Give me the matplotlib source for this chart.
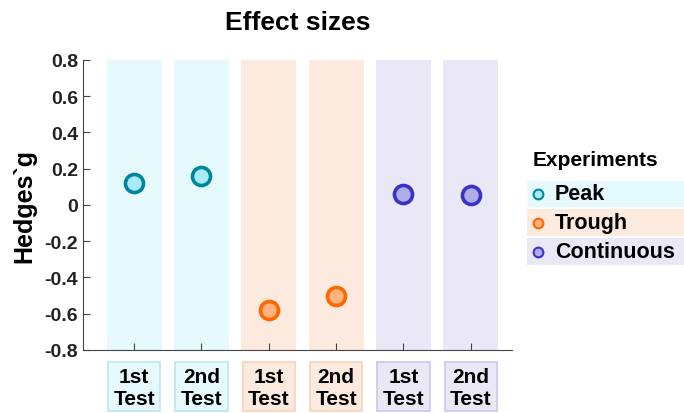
import numpy as np
import matplotlib
matplotlib.use("Agg")
import matplotlib.pyplot as plt
from matplotlib.patches import Rectangle
from matplotlib.lines import Line2D
import matplotlib.transforms as mtransforms

plt.rcParams['font.family'] = ['Liberation Sans', 'DejaVu Sans']
plt.rcParams['font.weight'] = 'bold'

# data
groups = ["Peak", "Trough", "Continuous"]
tick_labels = ["1st\nTest", "2nd\nTest", "1st\nTest", "2nd\nTest", "1st\nTest", "2nd\nTest"]
group_of = [0, 0, 1, 1, 2, 2]
hedges_g = [0.123, 0.16, -0.578, -0.50, 0.059, 0.053]

# colours per group
bg_col = ["#E6F9FD", "#FDEADE", "#EAE8F6"]
box_edge = ["#BDE6EE", "#F8D2BA", "#CBC7EC"]
face_col = ["#A9ECF9", "#FFB380", "#AFADE6"]
edge_col = ["#00869C", "#FF6600", "#3A33C9"]

fig = plt.figure(figsize=(6.84, 4.14), dpi=100)
ax = fig.add_axes([0.1213, 0.1522, 0.627, 0.7005])

x = np.arange(1, len(hedges_g) + 1)
ymin, ymax = -0.8, 0.8
for xi, g in zip(x, group_of):
    ax.bar(xi, ymax - ymin, bottom=ymin, width=0.82, color=bg_col[g], zorder=0)
for xi, yi, g in zip(x, hedges_g, group_of):
    ax.plot(xi, yi, 'o', ms=13, mfc=face_col[g], mec=edge_col[g], mew=2.6, zorder=3)

ax.set_xlim(0.24, 6.61)
ax.set_ylim(ymin, ymax)
yt = np.arange(-0.8, 0.81, 0.2)
ax.set_yticks(yt)
ax.set_yticklabels(["%g" % v if abs(v) > 1e-9 else "0" for v in yt])
ax.set_xticks(x)
ax.set_xticklabels([])
ax.tick_params(direction='in', length=5, color='#444444', labelsize=14, labelcolor='#222222')
for s in ['top', 'right']:
    ax.spines[s].set_visible(False)
for s in ['left', 'bottom']:
    ax.spines[s].set_color('#444444')
ax.set_ylabel("Hedges`g", fontsize=18, fontweight='bold', labelpad=6)
ax.set_title("Effect sizes", fontsize=19, fontweight='bold', pad=22)

# boxed tick labels
trans = mtransforms.blended_transform_factory(ax.transData, ax.transAxes)
for xi, lab, g in zip(x, tick_labels, group_of):
    ax.add_patch(Rectangle((xi - 0.39, -0.212), 0.78, 0.172, transform=trans,
                           facecolor=bg_col[g], edgecolor=box_edge[g], lw=1.2, clip_on=False))
    ax.text(xi, -0.128, lab, transform=trans, ha='center', va='center',
            fontsize=15, fontweight='bold', linespacing=1.2)

# legend
fig.text(533 / 684, 1 - 161 / 414, "Experiments", fontsize=15, fontweight='bold',
         ha='left', va='center')
rows = [(182, 208), (210, 237), (239, 266)]
for i, (top, bot) in enumerate(rows):
    fig.add_artist(Rectangle((527 / 684, 1 - bot / 414), (684 - 527) / 684, (bot - top) / 414,
                             transform=fig.transFigure, facecolor=bg_col[i], edgecolor='none'))
    yc = 1 - (top + bot) / 2 / 414
    fig.add_artist(Line2D([538 / 684], [yc], marker='o', ms=7, mfc=face_col[i], mec=edge_col[i],
                          mew=1.5, transform=fig.transFigure))
    fig.text(555 / 684, yc, groups[i], fontsize=15.5, fontweight='bold', ha='left', va='center')

fig.savefig("out.png", dpi=100)
